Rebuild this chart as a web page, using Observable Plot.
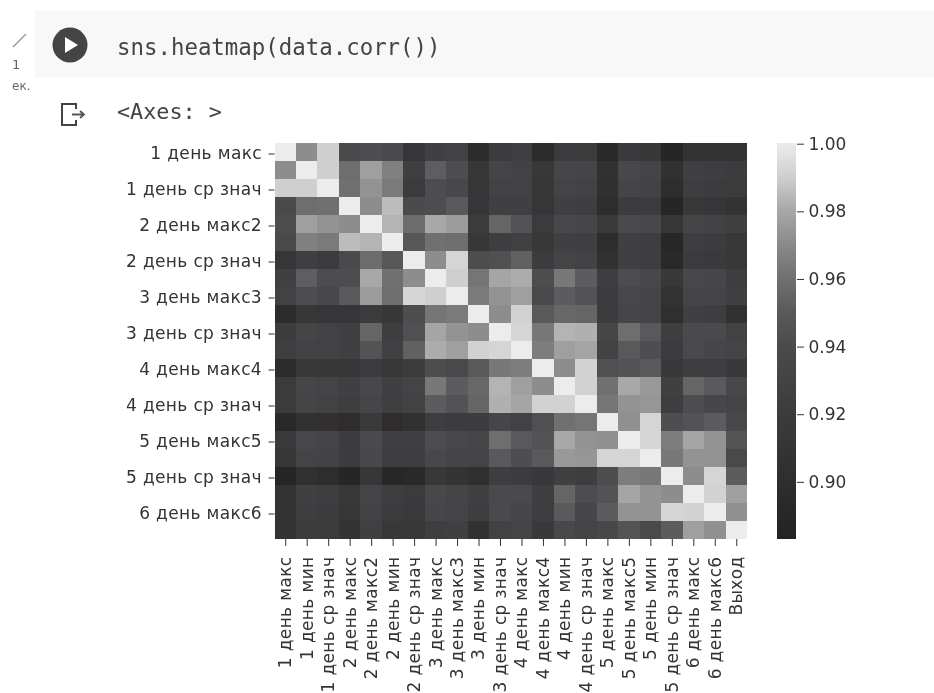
<!DOCTYPE html>
<html><head><meta charset="utf-8">
<script src="https://cdn.jsdelivr.net/npm/d3@7"></script>
<script src="https://cdn.jsdelivr.net/npm/@observablehq/plot@0.6"></script>
<style>
html,body{margin:0;padding:0;background:#fff;width:934px;height:693px;overflow:hidden}
#page{position:relative;width:934px;height:693px;overflow:hidden;font-family:"DejaVu Sans",sans-serif;filter:blur(0.55px)}
.abs{position:absolute}
.code{font-family:"DejaVu Sans Mono",monospace;font-size:22.4px;color:#444;white-space:pre;line-height:1}
#main svg,#bar svg{display:block;background:transparent;overflow:hidden}
#main svg [aria-label="cell"] *, #bar svg [aria-label="rect"] *{shape-rendering:crispEdges}
#main svg text{letter-spacing:0.35px}
</style></head>
<body><div id="page">
<div class="abs" style="left:35px;top:10px;width:899px;height:68px;background:#f8f8f8"></div>
<svg class="abs" style="left:0;top:0" width="120" height="130">
  <path d="M13 47 L26 34" stroke="#999" stroke-width="1.5" fill="none"/>
  <circle cx="70" cy="45" r="17.5" fill="#444"/>
  <path d="M65 37 L65 53 L78 45 Z" fill="#fff"/>
  <path d="M76 109 V104 H62 V125 H76 V120" stroke="#444" stroke-width="2" fill="none"/>
  <path d="M72 114.5 H83 M80 111 L84 114.5 L80 118" stroke="#555" stroke-width="1.8" fill="none"/>
</svg>
<div class="abs" style="left:12px;top:57px;font-size:13px;color:#666">1</div>
<div class="abs" style="left:12px;top:79px;font-size:12px;color:#666;width:20px;overflow:hidden">ек.</div>
<div class="abs code" style="left:117px;top:36px">sns.heatmap(data.corr())</div>
<div class="abs code" style="left:117px;top:101px;font-size:21.8px">&lt;Axes: &gt;</div>
<div class="abs" id="main" style="left:0;top:0"></div>
<div class="abs" id="bar" style="left:777px;top:0"></div>
</div>
<script>
const names = ["1 день макс","1 день мин","1 день ср знач","2 день макс","2 день макс2","2 день мин","2 день ср знач","3 день макс","3 день макс3","3 день мин","3 день ср знач","4 день макс","4 день макс4","4 день мин","4 день ср знач","5 день макс","5 день макс5","5 день мин","5 день ср знач","6 день макс","6 день макс6","Выход"];
const yLabels = ["1 день макс","1 день ср знач","2 день макс2","2 день ср знач","3 день макс3","3 день ср знач","4 день макс4","4 день ср знач","5 день макс5","5 день ср знач","6 день макс6"];
const barTicks = [0.90,0.92,0.94,0.96,0.98,1.00];
// upper triangle of the correlation matrix
const r0 = [1,.971,.990,.939,.942,.938,.911,.925,.928,.897,.920,.924,.897,.919,.918,.893,.917,.913,.888,.908,.908,.908];
const r1 = [1,.990,.959,.977,.966,.924,.952,.941,.913,.932,.928,.914,.933,.932,.905,.936,.931,.905,.925,.923,.920];
const r2 = [1,.960,.973,.964,.919,.941,.936,.911,.928,.928,.913,.931,.928,.903,.932,.929,.898,.922,.920,.918];
const r3 = [1,.971,.985,.939,.941,.949,.911,.925,.925,.911,.925,.923,.898,.920,.920,.887,.914,.911,.908];
const r4 = [1,.983,.958,.980,.976,.919,.955,.945,.919,.936,.933,.917,.938,.936,.911,.931,.928,.925];
const r5 = [1,.948,.960,.959,.913,.923,.926,.914,.925,.924,.899,.925,.922,.889,.922,.920,.914];
const r6 = [1,.971,.992,.941,.943,.953,.920,.930,.929,.905,.925,.922,.893,.919,.917,.914];
const r7 = [1,.990,.962,.979,.981,.941,.963,.951,.923,.941,.936,.914,.936,.933,.923];
const r8 = [1,.964,.973,.977,.937,.951,.945,.920,.936,.932,.908,.932,.930,.925];
const r9 = [1,.971,.991,.949,.956,.955,.920,.933,.931,.902,.925,.923,.905];
const r10 = [1,.992,.963,.983,.982,.933,.959,.949,.922,.939,.939,.928];
const r11 = [1,.965,.977,.979,.928,.949,.942,.920,.938,.933,.930];
const r12 = [1,.971,.991,.943,.945,.949,.916,.922,.922,.915];
const r13 = [1,.991,.960,.980,.975,.925,.955,.950,.936];
const r14 = [1,.962,.973,.974,.923,.941,.934,.931];
const r15 = [1,.972,.992,.942,.945,.951,.936];
const r16 = [1,.992,.965,.979,.973,.946];
const r17 = [1,.963,.973,.973,.937];
const r18 = [1,.971,.992,.951];
const r19 = [1,.991,.977];
const r20 = [1,.972];
const r21 = [1];
const upper = [r0,r1,r2,r3,r4,r5,r6,r7,r8,r9,r10,r11,r12,r13,r14,r15,r16,r17,r18,r19,r20,r21];

const barMin = 0.8831;
const barStep = 0.0005;
const colorDomain = [barMin,0.90,0.92,0.94,0.95,0.96,0.97,0.98,0.99,1.0];
const colorRange = ["#252223","#2f2d2e","#3c3c3e","#4b4b4d","#5a5a5c","#707070","#8a8a8a","#a8a8a8","#cfcfcf","#ececec"];

const cells = [];
upper.forEach((row,i)=>row.forEach((v,k)=>{
  const j=i+k;
  cells.push({x:names[j],y:names[i],v});
  if(j!==i) cells.push({x:names[i],y:names[j],v});
}));
const color = {type:"linear",domain:colorDomain,range:colorRange,interpolate:"rgb"};
const fs = 17;

document.getElementById("main").append(Plot.plot({
  width:934,height:693,
  marginLeft:274.5,marginRight:187,marginTop:143,marginBottom:154,
  style:{background:"transparent",fontFamily:"DejaVu Sans",fontSize:fs+"px",color:"#333"},
  x:{domain:names,padding:0,round:false,label:null},
  y:{domain:names,padding:0,round:false,label:null},
  color,
  marks:[
    Plot.cell(cells,{x:"x",y:"y",fill:"v"}),
    Plot.axisX({anchor:"bottom",tickRotate:-90,tickSize:7,tickPadding:10,label:null,fontSize:fs,stroke:"#333",fill:"#333"}),
    Plot.axisY({anchor:"left",ticks:yLabels,tickSize:6,tickPadding:7,dy:1.5,label:null,fontSize:fs,stroke:"#333",fill:"#333"})
  ]
}));

const ramp = d3.range(barMin,1,barStep);
document.getElementById("bar").append(Plot.plot({
  width:157,height:693,
  marginLeft:0,marginRight:138,marginTop:143.7,marginBottom:154,
  style:{background:"transparent",fontFamily:"DejaVu Sans",fontSize:fs+"px",color:"#333"},
  x:{axis:null,domain:[0,1]},
  y:{domain:[barMin,1],label:null,axis:null},
  color,
  marks:[
    Plot.rect(ramp,{x1:0,x2:1,y1:d=>d,y2:d=>d+barStep*1.2,fill:d=>d}),
    Plot.axisY({anchor:"right",ticks:barTicks,tickFormat:".2f",tickSize:7,tickPadding:5,label:null,fontSize:fs,stroke:"#333",fill:"#333"})
  ]
}));
</script>
</body></html>
